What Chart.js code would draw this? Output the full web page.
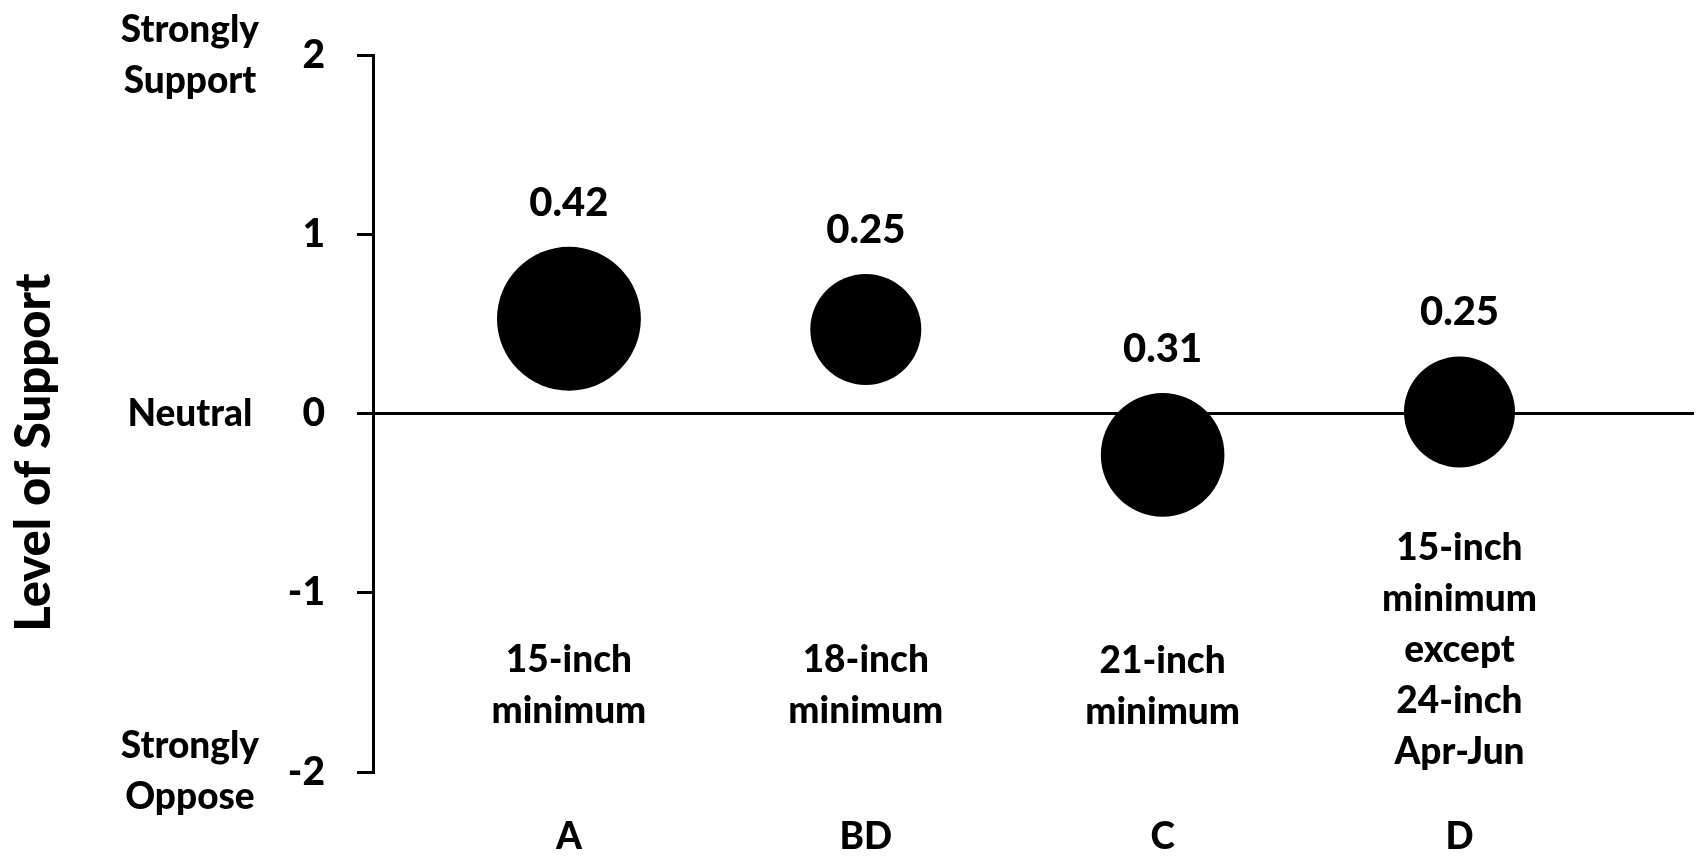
<!DOCTYPE html>
<html lang="en">
  <head>
    <meta charset="UTF-8" />
    <title>Level of Support</title>
    <script src="https://cdn.jsdelivr.net/npm/chart.js"></script>
    <style>
      body { margin: 0; background: #fff; }
      #wrap { width: 1704px; height: 857px; }
    </style>
  </head>
  <body>
    <div id="wrap"><canvas id="supportChart"></canvas></div>

    <script>
      // groups and the regulation each one stands for
      const groups = ["A", "BD", "C", "D"];
      const rules = [
        ["15-inch", "minimum"],
        ["18-inch", "minimum"],
        ["21-inch", "minimum"],
        ["15-inch", "minimum", "except", "24-inch", "Apr-Jun"],
      ];
      // mean level of support (y) and share of answers (bubble size)
      const support = [0.53, 0.47, -0.23, 0.01];
      const shares = [0.42, 0.25, 0.31, 0.25];

      const yTicks = [-2, -1, 0, 1, 2];
      const sideTicks = [2, 0, -2];
      const sideLabels = [["Strongly", "Support"], "Neutral", ["Strongly", "Oppose"]];

      // where the first line of each rule text sits, in axis units
      const ruleTop = [-1.44, -1.44, -1.445, -0.815];

      const WEIGHT = "900";
      const font = (size, lh) => ({ family: "Lato", weight: WEIGHT, size: size, lineHeight: lh || 1.2 });

      const annotate = {
        id: "annotate",
        afterDatasetsDraw(chart) {
          const ctx = chart.ctx;
          const xs = chart.scales.x;
          const ys = chart.scales.y;
          const meta = chart.getDatasetMeta(0);
          ctx.save();
          ctx.fillStyle = "#000";
          ctx.textAlign = "center";
          ctx.textBaseline = "alphabetic";

          ctx.font = WEIGHT + " 40px Lato";
          meta.data.forEach((pt, i) => {
            ctx.fillText(shares[i].toFixed(2), pt.x, pt.y - pt.options.radius - 31);
          });

          ctx.font = WEIGHT + " 37px Lato";
          rules.forEach((lines, i) => {
            const px = xs.getPixelForValue(i + 1);
            const py = ys.getPixelForValue(ruleTop[i]);
            lines.forEach((t, k) => ctx.fillText(t, px, py + k * 51));
          });

          const area = chart.chartArea;
          ctx.translate(50, (area.top + area.bottom) / 2 + 39);
          ctx.rotate(-Math.PI / 2);
          ctx.font = WEIGHT + " 49px Lato";
          ctx.fillText("Level of Support", 0, 0);
          ctx.restore();
        },
      };

      new Chart(document.getElementById("supportChart"), {
        type: "bubble",
        data: {
          datasets: [
            {
              data: groups.map((g, i) => ({ x: i + 1, y: support[i], r: 111 * Math.sqrt(shares[i]) })),
              backgroundColor: "#000",
              borderWidth: 0,
            },
          ],
        },
        options: {
          responsive: true,
          maintainAspectRatio: false,
          animation: false,
          events: [],
          layout: { autoPadding: false, padding: { top: 48, right: 10, left: 0, bottom: 0 } },
          plugins: { legend: { display: false }, tooltip: { enabled: false } },
          scales: {
            x: {
              type: "linear",
              position: "bottom",
              min: 0.34,
              max: 4.79,
              afterBuildTicks: (s) => { s.ticks = groups.map((g, i) => ({ value: i + 1 })); },
              afterFit: (s) => { s.height = 85; s.paddingLeft = 0; s.paddingRight = 0; },
              grid: { display: false, drawTicks: false },
              border: { display: false },
              ticks: {
                callback: (v, i) => groups[i],
                color: "#000",
                font: font(37),
                padding: 43,
                maxRotation: 0,
                autoSkip: false,
              },
            },
            y: {
              position: "left",
              weight: 0,
              min: -2,
              max: 2,
              afterBuildTicks: (s) => { s.ticks = yTicks.map((v) => ({ value: v })); },
              afterFit: (s) => { s.width = 114; },
              grid: {
                color: (c) => (c.tick && c.tick.value === 0 ? "#000" : "rgba(0,0,0,0)"),
                lineWidth: 3,
                tickColor: "#000",
                tickWidth: 3,
                tickLength: 16,
              },
              border: { display: true, color: "#000", width: 3 },
              ticks: { color: "#000", font: font(39), padding: 32 },
            },
            side: {
              position: "left",
              weight: 1,
              min: -2,
              max: 2,
              afterBuildTicks: (s) => { s.ticks = sideTicks.map((v) => ({ value: v })); },
              afterFit: (s) => { s.width = 259; s.paddingTop = 0; s.paddingBottom = 0; },
              grid: { display: false, drawTicks: false },
              border: { display: false },
              ticks: {
                callback: (v, i) => sideLabels[i],
                crossAlign: "center",
                padding: 0,
                color: "#000",
                font: font(37, 1.38),
              },
            },
          },
        },
        plugins: [annotate],
      });
    </script>
  </body>
</html>
